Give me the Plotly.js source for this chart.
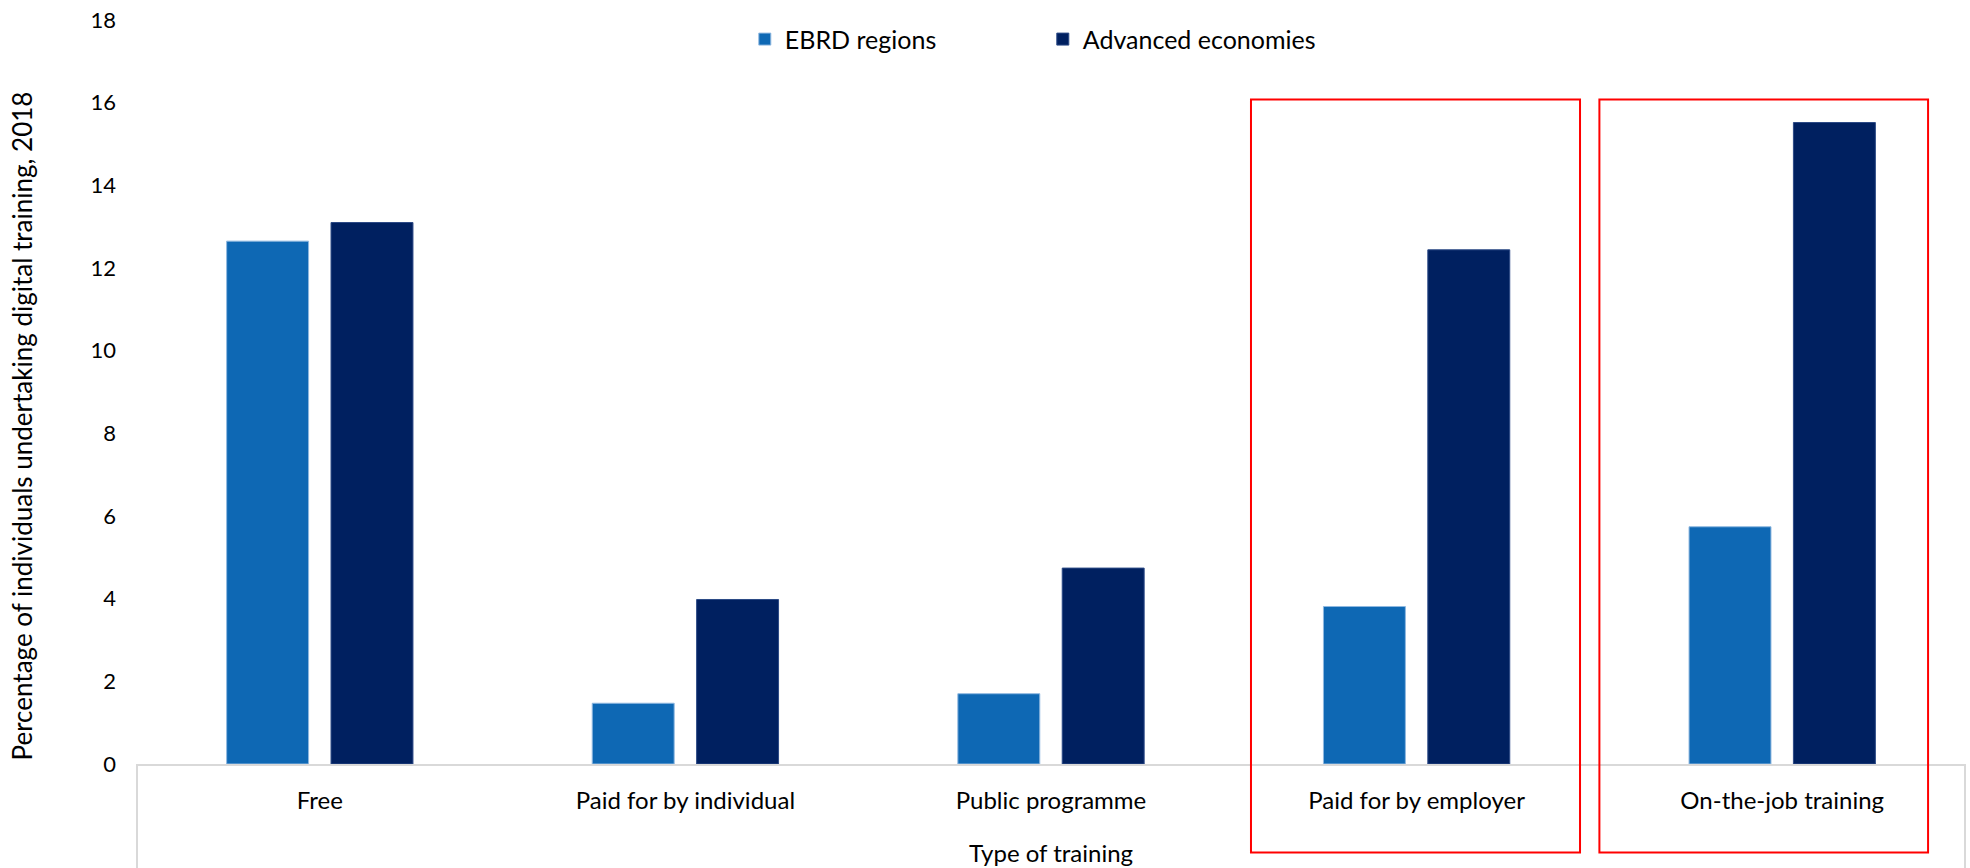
<!DOCTYPE html>
<html><head><meta charset="utf-8">
<script src="https://cdn.plot.ly/plotly-3.0.1.min.js"></script>
<style>html,body{margin:0;padding:0;background:#fff}#chart{width:1970px;height:868px}</style>
</head><body><div id="chart"></div>
<script>
const categories = ["Free", "Paid for by individual", "Public programme", "Paid for by employer", "On-the-job training"];
const ebrdValues = [12.65, 1.47, 1.70, 3.81, 5.74];
const advancedValues = [13.10, 3.98, 4.74, 12.44, 15.52];
const seriesNames = ["EBRD regions", "Advanced economies"];
const yTickValues = [0, 2, 4, 6, 8, 10, 12, 14, 16, 18];
const yTickLabels = ["0", "2", "4", "6", "8", "10", "12", "14", "16", "18"];
const highlighted = ["Paid for by employer", "On-the-job training"];
const xTitle = "Type of training";
const yTitle = "Percentage of individuals undertaking digital training, 2018";

const FONT = "Lato, Carlito, Calibri, 'Open Sans', sans-serif";

const traces = [
  {type: "bar", name: seriesNames[0], x: categories, y: ebrdValues,
   marker: {color: "#0e68b4", line: {color: "#8fb8e0", width: 1}}, hoverinfo: "x+y+name"},
  {type: "bar", name: seriesNames[1], x: categories, y: advancedValues,
   marker: {color: "#002060", line: {color: "#2c4a86", width: 1}}, hoverinfo: "x+y+name"}
];

// red highlight frames around selected categories
const boxSpans = [[-0.453, 0.447], [-0.5, 0.399]];
const shapes = [];
highlighted.forEach((c, i) => {
  const idx = categories.indexOf(c);
  shapes.push({type: "rect", xref: "x", yref: "paper",
    x0: idx + boxSpans[i][0], x1: idx + boxSpans[i][1], y0: -0.119, y1: 0.893,
    line: {color: "#ff0000", width: 2}, fillcolor: "rgba(0,0,0,0)", layer: "above"});
});
// category axis frame sides
shapes.push({type: "line", xref: "paper", yref: "paper", x0: 0, x1: 0, y0: 0, y1: -0.14,
  line: {color: "#d9d9d9", width: 2}});
shapes.push({type: "line", xref: "paper", yref: "paper", x0: 1, x1: 1, y0: 0, y1: -0.14,
  line: {color: "#d9d9d9", width: 2}});

const layout = {
  width: 1970, height: 868,
  margin: {l: 137, r: 5, t: 20, b: 104, pad: 0},
  paper_bgcolor: "#ffffff", plot_bgcolor: "#ffffff",
  font: {family: FONT, color: "#000000", size: 22},
  barmode: "group", bargap: 0.429, bargroupgap: 0.215,
  showlegend: true,
  legend: {orientation: "h", x: 0.3325, xanchor: "left", y: 0.974, yanchor: "middle",
    font: {family: FONT, size: 25, color: "#000000"}, entrywidth: 253, bgcolor: "rgba(0,0,0,0)",
    traceorder: "normal"},
  xaxis: {type: "category", showgrid: false, zeroline: false, showline: true,
    linecolor: "#d9d9d9", linewidth: 2, ticks: "", tickfont: {family: FONT, size: 24, color: "#000"},
    ticklabelstandoff: 14,
    title: {text: xTitle, font: {family: FONT, size: 24, color: "#000"}, standoff: 32},
    automargin: false, fixedrange: true},
  yaxis: {range: [0, 18], tickvals: yTickValues, ticktext: yTickLabels, showgrid: false,
    zeroline: false, showline: false, ticks: "", tickfont: {family: FONT, size: 22, color: "#000"},
    ticklabelstandoff: 20, automargin: false, fixedrange: true},
  shapes: shapes,
  annotations: [{text: yTitle, xref: "paper", yref: "paper", x: -0.0629, y: 0.4537,
    xanchor: "center", yanchor: "middle", textangle: -90, showarrow: false,
    font: {family: FONT, size: 26, color: "#000"}}]
};

Plotly.newPlot("chart", traces, layout, {displayModeBar: false, staticPlot: true});
</script>
</body></html>
